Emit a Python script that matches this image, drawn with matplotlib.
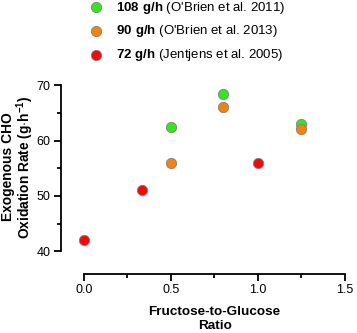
import matplotlib
matplotlib.use("Agg")
import matplotlib.pyplot as plt
from matplotlib.ticker import MultipleLocator

plt.rcParams['font.family'] = ['Liberation Sans', 'DejaVu Sans']
plt.rcParams['mathtext.fontset'] = 'custom'
plt.rcParams['mathtext.rm'] = 'Liberation Sans'
plt.rcParams['mathtext.bf'] = 'Liberation Sans:bold'

# data
ratio_108 = [0.5, 0.8, 1.25]
rate_108 = [62.4, 68.4, 63.0]
ratio_90 = [0.5, 0.8, 1.25]
rate_90 = [56.0, 66.1, 62.0]
ratio_72 = [0.0, 0.333, 1.0]
rate_72 = [42.0, 51.0, 56.0]

series = [
    (ratio_108, rate_108, '#33e81a', r"$\mathbf{108\ g/h}$ (O'Brien et al. 2011)"),
    (ratio_90, rate_90, '#f5820f', r"$\mathbf{90\ g/h}$ (O'Brien et al. 2013)"),
    (ratio_72, rate_72, '#f70808', r"$\mathbf{72\ g/h}$ (Jentjens et al. 2005)"),
]

fig = plt.figure(figsize=(3.57, 3.33), dpi=100)
ax = fig.add_axes([0.171, 0.177, 0.804, 0.574])

handles = []
for x, y, c, lab in series:
    h = ax.scatter(x, y, s=55, color=c, edgecolor='#808080', linewidth=0.6,
                   zorder=3, label=lab)
    handles.append(h)

ax.set_xlim(-0.132, 1.52)
ax.set_ylim(35.9, 70.4)
ax.spines['top'].set_visible(False)
ax.spines['right'].set_visible(False)
ax.spines['left'].set_bounds(40, 70)
ax.spines['bottom'].set_bounds(0, 1.5)
for s in ['left', 'bottom']:
    ax.spines[s].set_linewidth(1.3)

ax.xaxis.set_major_locator(MultipleLocator(0.5))
ax.xaxis.set_minor_locator(MultipleLocator(0.25))
ax.yaxis.set_major_locator(MultipleLocator(10))
ax.yaxis.set_minor_locator(MultipleLocator(5))
ax.xaxis.set_major_formatter(plt.FuncFormatter(lambda v, p: f"{v:.1f}"))
ax.tick_params(which='major', length=5, width=1.3, labelsize=9, color='black', pad=2.5)
ax.tick_params(which='minor', length=3, width=1.3)

ax.set_xlabel("Fructose-to-Glucose\nRatio", fontsize=9.7, fontweight='bold',
              linespacing=1.25)
ax.xaxis.set_label_coords(0.535, -0.165)
ax.set_ylabel("Exogenous CHO\nOxidation Rate (g$\\cdot$h$^{\\mathbf{-1}}$)",
              fontsize=9.9, fontweight='bold', linespacing=0.95)
ax.yaxis.set_label_coords(-0.088, 0.56)

fig.legend(handles=handles, loc='upper left', bbox_to_anchor=(0.2, 1.037),
           frameon=False, fontsize=9.5, handletextpad=0.5, labelspacing=0.6,
           scatterpoints=1)

fig.savefig("out.png", dpi=100)
